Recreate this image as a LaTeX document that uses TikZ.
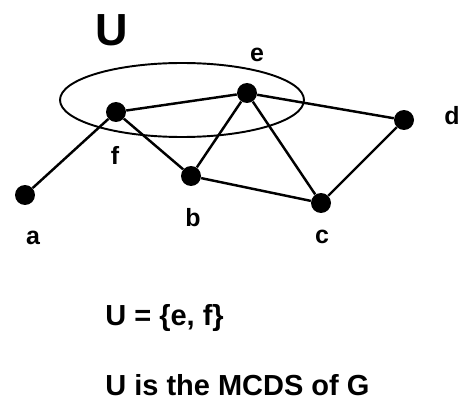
\documentclass[tikz,border=0pt]{standalone}
\usepackage{fontspec}
\setmainfont{Liberation Sans}
\usepackage{tikz}
\usetikzlibrary{positioning}
\tikzset{
  vtx/.style={circle,fill=black,inner sep=0pt,minimum size=0.4cm},
  lbl/.style={font=\fontsize{14.2}{16}\selectfont\bfseries,inner sep=0pt},
  edge/.style={line width=1.4pt}
}

\begin{document}
\begin{tikzpicture}[x=0.02cm,y=-0.02cm]
\useasboundingbox (0,0) rectangle (463,405);
% the set U
\draw[line width=1.1pt] (182,100) ellipse[x radius=122, y radius=37];
\node[font=\fontsize{25.6}{28}\selectfont\bfseries,inner sep=0pt] (U) at (112,30) {U};
% vertices
\node[vtx] (a) at (25,195) {};
\node[vtx] (f) at (116,112) {};
\node[vtx] (e) at (247,93) {};
\node[vtx] (b) at (191,176) {};
\node[vtx] (c) at (321,203) {};
\node[vtx] (d) at (404,120) {};
% edges
\draw[edge] (a) -- (f);
\draw[edge] (f) -- (e);
\draw[edge] (f) -- (b);
\draw[edge] (b) -- (e);
\draw[edge] (e) -- (c);
\draw[edge] (e) -- (d);
\draw[edge] (d) -- (c);
\draw[edge] (b) -- (c);
% labels
\node[lbl] (la) at (33,238) {a};
\node[lbl] (lf) at (115,155) {f};
\node[lbl] (le) at (257,55) {e};
\node[lbl] (lb) at (193,218) {b};
\node[lbl] (lc) at (322,237) {c};
\node[lbl] (ld) at (452,116) {d};
% text
\node[font=\fontsize{16.5}{18}\selectfont\bfseries,anchor=west,inner sep=0pt] (t1) at (105,318) {U = \{e, f\}};
\node[font=\fontsize{16.5}{18}\selectfont\bfseries,anchor=west,inner sep=0pt] (t2) at (105,385) {U is the MCDS of G};
\end{tikzpicture}
\end{document}
